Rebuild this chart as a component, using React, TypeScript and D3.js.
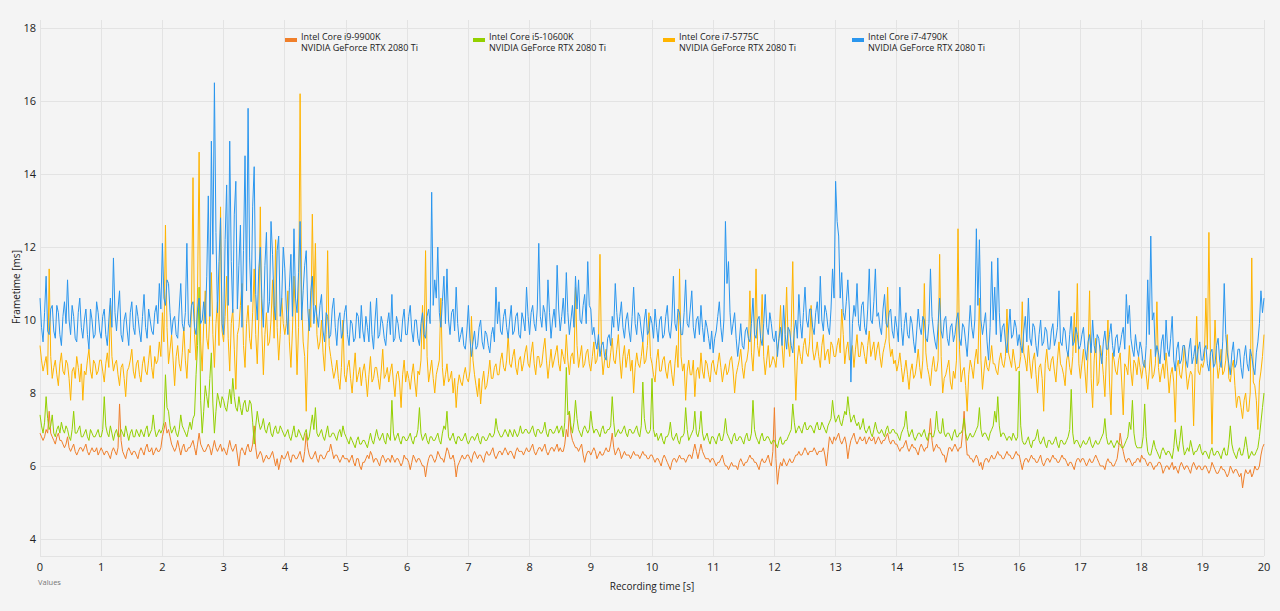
import React from "react";
import * as d3 from "d3";

// Frametime recordings over 20 s, 25 ms sampling (ms per frame)
const DURATION = 20;

const i9_9900K = [
  6.9, 6.8, 6.7, 6.8, 7.0, 6.9, 7.5, 6.9, 6.8, 6.7, 6.6, 6.8, 6.9, 6.7, 6.7, 6.6, 6.5, 6.6, 6.8, 6.5, 6.4, 6.5, 6.6, 6.4, 6.3, 6.4, 6.5, 6.5, 6.4, 6.5, 6.6, 6.4, 6.3, 6.4, 6.5, 6.4, 6.4, 6.5, 6.3, 6.4,
  6.5, 6.4, 6.3, 6.4, 6.4, 6.3, 6.2, 6.4, 6.5, 6.4, 6.3, 6.5, 7.7, 6.7, 6.4, 6.3, 6.2, 6.4, 6.5, 6.4, 6.3, 6.4, 6.4, 6.3, 6.2, 6.4, 6.5, 6.4, 6.3, 6.5, 6.6, 6.4, 6.4, 6.5, 6.3, 6.4, 6.5, 6.4, 6.4, 6.5,
  6.8, 7.0, 7.2, 6.9, 7.0, 6.8, 6.6, 6.5, 6.4, 6.5, 6.7, 6.5, 6.3, 6.5, 6.6, 6.4, 6.4, 6.5, 6.5, 6.6, 6.7, 6.5, 6.3, 6.6, 6.9, 6.6, 6.5, 6.4, 6.4, 6.5, 6.6, 6.5, 6.3, 6.5, 6.7, 6.5, 6.4, 6.5, 6.6, 6.4,
  6.5, 6.4, 6.3, 6.5, 6.7, 6.5, 6.4, 6.5, 6.6, 6.3, 6.0, 6.4, 6.5, 6.4, 6.3, 6.5, 6.6, 6.4, 6.4, 6.6, 7.1, 6.5, 6.2, 6.3, 6.4, 6.3, 6.1, 6.2, 6.3, 6.2, 6.2, 6.3, 6.4, 6.2, 6.0, 6.2, 5.9, 6.1, 6.3, 6.2,
  6.2, 6.3, 6.4, 6.2, 6.1, 6.3, 6.3, 6.2, 6.2, 6.3, 6.4, 6.2, 6.1, 6.4, 6.9, 6.5, 6.3, 6.2, 6.2, 6.3, 6.4, 6.2, 6.1, 6.3, 6.3, 6.2, 6.2, 6.3, 6.4, 6.4, 6.6, 6.4, 6.2, 6.3, 6.3, 6.2, 6.1, 6.2, 6.3, 6.2,
  6.2, 6.2, 6.1, 6.2, 6.3, 6.1, 6.0, 6.2, 6.2, 6.0, 5.9, 6.1, 6.1, 6.2, 6.3, 6.2, 6.4, 6.3, 6.1, 6.2, 6.2, 6.1, 6.0, 6.2, 6.3, 6.2, 6.1, 6.2, 6.2, 6.1, 6.3, 6.2, 6.1, 6.2, 6.2, 6.1, 6.0, 6.1, 6.3, 6.2,
  6.2, 6.1, 5.9, 6.1, 6.3, 6.2, 6.1, 6.2, 6.2, 6.1, 6.0, 6.0, 5.7, 6.0, 6.2, 6.3, 6.3, 6.2, 6.1, 6.2, 6.4, 6.3, 6.2, 6.2, 6.1, 6.3, 6.5, 6.4, 6.2, 6.2, 6.3, 6.1, 5.7, 6.0, 6.1, 6.2, 6.3, 6.2, 6.2, 6.3,
  6.3, 6.2, 6.1, 6.3, 6.4, 6.3, 6.2, 6.3, 6.3, 6.2, 6.1, 6.3, 6.4, 6.3, 6.3, 6.4, 6.5, 6.3, 6.2, 6.3, 6.4, 6.4, 6.3, 6.4, 6.5, 6.4, 6.3, 6.4, 6.4, 6.3, 6.2, 6.4, 6.5, 6.4, 6.4, 6.4, 6.3, 6.4, 6.5, 6.4,
  6.4, 6.5, 6.6, 6.4, 6.3, 6.4, 6.5, 6.5, 6.4, 6.5, 6.6, 6.4, 6.3, 6.4, 6.5, 6.5, 6.4, 6.5, 6.6, 6.4, 6.5, 6.4, 6.4, 6.6, 7.0, 6.8, 7.5, 6.9, 6.7, 6.6, 6.5, 6.5, 6.4, 6.5, 6.6, 6.3, 6.1, 6.3, 6.4, 6.4,
  6.3, 6.4, 6.5, 6.4, 6.2, 6.3, 6.4, 6.3, 6.3, 6.4, 6.5, 6.4, 6.4, 6.6, 6.9, 6.5, 6.3, 6.4, 6.5, 6.4, 6.2, 6.3, 6.4, 6.3, 6.3, 6.3, 6.2, 6.3, 6.4, 6.3, 6.3, 6.3, 6.2, 6.3, 6.4, 6.3, 6.3, 6.2, 6.2, 6.3,
  6.3, 6.2, 6.1, 6.2, 6.2, 6.1, 6.0, 6.2, 6.3, 6.2, 6.1, 6.0, 5.9, 6.1, 6.2, 6.2, 6.1, 6.2, 6.3, 6.2, 6.2, 6.2, 6.1, 6.2, 6.3, 6.3, 6.2, 6.4, 6.6, 6.4, 6.2, 6.4, 6.6, 6.4, 6.3, 6.2, 6.2, 6.2, 6.1, 6.2,
  6.2, 6.1, 6.0, 6.1, 6.1, 6.2, 6.3, 6.1, 6.0, 6.0, 5.9, 6.0, 6.1, 6.0, 6.0, 6.0, 5.9, 6.1, 6.2, 6.1, 6.0, 6.1, 6.1, 6.2, 6.3, 6.2, 6.2, 6.1, 6.1, 6.0, 5.9, 6.1, 6.2, 6.1, 6.1, 6.2, 6.3, 6.1, 6.0, 6.4,
  7.6, 6.2, 5.5, 5.9, 6.1, 6.0, 6.2, 6.1, 6.0, 6.1, 6.2, 6.1, 6.1, 6.2, 6.3, 6.3, 6.4, 6.3, 6.3, 6.4, 6.5, 6.4, 6.3, 6.4, 6.4, 6.4, 6.5, 6.4, 6.3, 6.4, 6.4, 6.4, 6.5, 6.3, 6.0, 6.4, 6.8, 6.7, 6.6, 6.8,
  6.7, 6.8, 6.9, 6.7, 6.6, 6.7, 6.8, 6.6, 6.2, 6.5, 6.7, 6.8, 6.9, 6.7, 6.6, 6.7, 6.8, 6.7, 6.7, 6.8, 6.6, 6.7, 6.8, 6.7, 6.7, 6.8, 6.6, 6.7, 6.8, 6.7, 6.6, 6.7, 6.7, 6.8, 6.9, 6.7, 6.6, 6.7, 6.7, 6.6,
  6.6, 6.5, 6.4, 6.5, 6.5, 6.6, 6.7, 6.5, 6.4, 6.5, 6.6, 6.5, 6.5, 6.4, 6.3, 6.5, 6.6, 6.5, 6.4, 6.5, 6.5, 6.8, 7.3, 6.7, 6.4, 6.5, 6.6, 6.5, 6.5, 6.4, 6.3, 6.3, 6.1, 6.3, 6.5, 6.5, 6.4, 6.5, 6.6, 6.5,
  6.4, 6.5, 6.5, 6.9, 7.5, 6.8, 6.3, 6.3, 6.2, 6.2, 6.1, 6.2, 6.3, 6.2, 6.0, 6.1, 5.9, 6.1, 6.2, 6.2, 6.1, 6.2, 6.3, 6.2, 6.2, 6.3, 6.4, 6.3, 6.3, 6.2, 6.2, 6.3, 6.4, 6.3, 6.3, 6.2, 6.2, 6.3, 6.4, 6.3,
  6.3, 6.1, 5.9, 6.1, 6.2, 6.2, 6.1, 6.2, 6.3, 6.2, 6.2, 6.1, 6.1, 6.2, 6.3, 6.1, 6.0, 6.1, 6.2, 6.2, 6.1, 6.2, 6.3, 6.2, 6.2, 6.1, 6.1, 6.2, 6.3, 6.2, 6.2, 6.1, 6.0, 6.1, 6.1, 6.0, 5.9, 6.1, 6.2, 6.2,
  6.1, 6.2, 6.2, 6.1, 6.0, 6.1, 6.2, 6.1, 6.1, 6.2, 6.3, 6.2, 6.1, 6.0, 6.0, 6.0, 5.9, 6.1, 6.2, 6.1, 6.1, 6.0, 6.0, 6.1, 6.2, 6.5, 6.9, 6.6, 6.4, 6.2, 6.1, 6.2, 6.2, 6.1, 6.0, 6.1, 6.1, 6.2, 6.2, 6.1,
  6.3, 6.2, 6.2, 6.1, 6.0, 6.1, 6.1, 6.0, 5.9, 6.0, 6.0, 6.1, 6.1, 6.0, 5.8, 5.9, 6.0, 6.0, 5.9, 6.0, 6.1, 5.9, 6.0, 5.9, 5.8, 6.0, 6.1, 6.0, 5.9, 6.0, 6.0, 5.9, 5.8, 6.0, 6.1, 6.0, 5.9, 6.0, 6.0, 5.9,
  5.9, 6.0, 6.0, 5.9, 5.8, 5.9, 6.1, 6.0, 5.9, 5.8, 5.8, 5.9, 6.0, 5.9, 5.9, 5.8, 5.7, 5.8, 6.0, 5.9, 5.8, 5.9, 5.9, 5.8, 5.7, 5.8, 5.4, 5.7, 5.9, 5.8, 5.8, 5.9, 5.7, 5.8, 6.0, 5.9, 5.9, 6.0, 6.3, 6.5,
  6.6,
];

const i5_10600K = [
  7.4, 7.1, 6.9, 7.2, 7.9, 7.3, 7.0, 7.1, 7.4, 6.9, 6.8, 7.0, 7.1, 6.9, 7.2, 7.0, 6.9, 7.1, 7.0, 6.8, 6.7, 7.0, 7.5, 6.9, 6.9, 7.0, 7.1, 6.8, 6.8, 6.9, 7.0, 6.8, 6.7, 7.0, 6.9, 6.8, 6.8, 6.9, 7.0, 6.8,
  6.8, 7.0, 7.9, 7.1, 6.9, 6.8, 7.1, 6.9, 6.7, 6.9, 7.0, 6.8, 6.8, 7.0, 6.9, 6.8, 7.1, 6.9, 6.7, 6.9, 7.0, 6.8, 6.8, 7.0, 6.9, 6.8, 7.0, 6.9, 6.8, 7.0, 7.1, 6.8, 6.9, 7.0, 7.4, 7.0, 6.8, 6.9, 7.0, 6.9,
  7.0, 7.2, 8.5, 7.6, 7.5, 7.1, 6.9, 7.0, 7.1, 6.9, 6.8, 7.0, 7.4, 7.1, 7.0, 6.9, 6.8, 7.0, 7.2, 7.0, 7.3, 7.4, 8.5, 9.3, 10.9, 7.8, 6.9, 7.5, 8.2, 7.9, 7.6, 8.4, 9.1, 7.7, 6.9, 7.5, 8.0, 7.8, 7.6, 7.9,
  7.8, 7.6, 7.5, 7.8, 8.1, 7.7, 8.4, 7.9, 7.6, 7.5, 7.9, 7.6, 7.4, 7.7, 7.8, 7.5, 7.5, 7.8, 7.7, 7.2, 6.6, 7.1, 7.5, 7.2, 7.0, 7.1, 7.3, 7.0, 6.9, 7.1, 7.2, 6.9, 6.8, 7.0, 7.1, 6.9, 6.9, 7.1, 7.0, 6.9,
  6.8, 6.9, 7.0, 6.8, 6.7, 6.9, 7.1, 6.8, 6.8, 7.0, 6.9, 6.8, 6.7, 6.9, 7.0, 6.7, 6.8, 7.1, 7.4, 7.0, 7.6, 6.9, 6.8, 6.9, 7.0, 6.8, 6.7, 6.9, 7.1, 6.8, 6.8, 6.9, 6.9, 6.8, 6.7, 6.9, 7.0, 6.8, 7.1, 6.9,
  6.8, 6.7, 6.6, 6.8, 6.7, 6.6, 6.5, 6.7, 6.8, 6.6, 6.6, 6.7, 6.7, 6.6, 6.5, 6.7, 6.9, 6.7, 6.6, 6.8, 7.0, 6.8, 6.7, 6.8, 6.9, 6.7, 6.6, 6.9, 6.8, 6.7, 7.8, 6.9, 6.7, 6.8, 6.9, 6.7, 6.6, 6.8, 6.8, 6.7,
  6.7, 6.8, 6.9, 6.7, 6.6, 6.8, 6.8, 7.0, 7.6, 6.9, 6.7, 6.8, 6.9, 6.7, 6.6, 6.8, 6.8, 6.7, 6.7, 6.8, 6.9, 6.7, 6.6, 6.9, 7.1, 7.0, 7.5, 6.8, 6.7, 6.8, 6.9, 6.7, 6.6, 6.8, 6.8, 6.7, 6.7, 6.8, 6.9, 6.7,
  6.6, 6.7, 6.8, 6.8, 6.7, 6.8, 6.9, 6.7, 6.6, 6.8, 6.8, 6.7, 6.7, 6.8, 6.9, 6.8, 6.8, 6.9, 7.3, 7.0, 6.9, 6.8, 6.8, 6.9, 7.0, 6.9, 6.8, 7.0, 6.9, 6.8, 7.0, 6.9, 6.8, 6.9, 7.1, 6.9, 6.9, 7.0, 7.0, 6.9,
  6.9, 7.0, 7.1, 6.9, 6.8, 7.0, 7.0, 6.9, 6.9, 7.0, 7.2, 6.9, 6.8, 7.0, 7.0, 6.9, 6.9, 7.0, 7.1, 6.9, 7.0, 7.1, 6.8, 7.2, 8.7, 7.4, 7.5, 7.1, 6.9, 7.2, 7.8, 7.3, 7.0, 6.9, 6.8, 7.0, 7.1, 7.0, 6.9, 7.0,
  7.5, 7.1, 6.9, 7.0, 7.0, 6.9, 6.8, 7.0, 7.1, 6.9, 6.9, 7.0, 7.0, 7.1, 7.9, 7.2, 6.8, 6.9, 7.0, 6.9, 6.9, 7.0, 7.1, 6.9, 6.8, 7.0, 7.0, 6.9, 6.9, 7.0, 7.1, 6.9, 6.8, 7.1, 8.3, 7.3, 7.0, 6.9, 6.9, 7.0,
  8.4, 7.0, 6.8, 6.9, 6.7, 6.8, 6.9, 6.7, 6.6, 6.8, 6.8, 6.9, 7.2, 6.8, 6.7, 6.8, 6.9, 6.7, 6.6, 6.8, 6.8, 6.9, 7.6, 7.0, 6.7, 6.8, 6.9, 7.0, 7.5, 6.9, 6.8, 7.0, 7.5, 6.9, 6.7, 6.8, 6.9, 6.7, 6.6, 6.8,
  6.8, 6.7, 6.6, 6.8, 6.9, 6.7, 6.7, 6.9, 7.3, 6.9, 6.8, 6.7, 6.6, 6.8, 6.9, 6.7, 6.7, 6.8, 6.8, 6.7, 6.6, 6.8, 6.9, 6.7, 6.7, 6.9, 7.8, 7.0, 6.8, 6.7, 6.6, 6.8, 6.9, 6.7, 6.7, 6.8, 6.8, 6.7, 6.6, 6.7,
  6.7, 6.6, 6.5, 6.7, 6.8, 6.6, 6.6, 6.7, 6.7, 6.8, 6.9, 7.0, 7.7, 7.2, 6.9, 7.0, 7.1, 7.0, 6.9, 7.1, 7.2, 7.0, 7.0, 7.1, 7.1, 7.0, 6.9, 7.1, 7.2, 7.0, 7.0, 7.2, 7.1, 7.0, 6.9, 7.1, 7.2, 7.3, 7.8, 7.4,
  7.2, 7.3, 7.4, 7.2, 7.1, 7.3, 7.5, 7.4, 7.9, 7.5, 7.2, 7.3, 7.4, 7.2, 7.1, 7.2, 7.0, 7.1, 7.3, 7.0, 6.9, 7.0, 7.1, 6.9, 6.8, 7.0, 7.2, 7.0, 6.9, 6.9, 7.0, 6.9, 6.8, 7.0, 7.1, 6.9, 6.9, 7.0, 7.0, 6.9,
  6.9, 6.8, 6.7, 6.9, 7.0, 7.1, 7.5, 7.0, 6.8, 6.9, 7.0, 6.8, 6.7, 6.8, 6.9, 6.9, 6.8, 6.9, 7.0, 6.8, 6.7, 6.9, 6.9, 6.8, 6.8, 7.0, 7.5, 7.0, 6.9, 6.9, 7.3, 6.9, 6.8, 6.9, 6.9, 6.8, 6.7, 6.9, 7.0, 6.8,
  6.8, 6.9, 6.9, 7.0, 7.3, 6.9, 6.7, 6.8, 6.9, 6.8, 6.8, 6.9, 7.0, 7.1, 7.6, 7.0, 6.8, 6.9, 6.9, 6.8, 6.7, 6.9, 7.0, 7.1, 7.5, 7.2, 7.9, 7.1, 6.8, 6.9, 6.9, 6.8, 6.7, 6.8, 6.8, 6.7, 6.9, 6.8, 6.7, 6.8,
  8.6, 7.1, 6.7, 6.6, 6.6, 6.7, 6.8, 6.6, 6.5, 6.7, 6.7, 6.8, 7.0, 6.7, 6.6, 6.7, 6.8, 6.6, 6.5, 6.7, 6.7, 6.6, 6.6, 6.7, 6.8, 6.6, 6.5, 6.7, 6.7, 6.6, 6.6, 6.7, 6.8, 7.0, 8.1, 6.9, 6.6, 6.7, 6.7, 6.6,
  6.5, 6.6, 6.7, 6.6, 6.6, 6.7, 6.8, 6.6, 6.5, 6.6, 6.7, 6.6, 6.6, 6.7, 6.8, 6.9, 7.3, 6.8, 6.6, 6.6, 6.7, 6.6, 6.5, 6.6, 6.7, 6.6, 6.6, 6.5, 6.5, 6.6, 6.7, 6.8, 7.2, 7.0, 7.8, 6.9, 6.6, 6.5, 6.5, 6.5,
  6.5, 6.8, 7.7, 6.8, 6.4, 6.3, 6.3, 6.5, 6.7, 6.5, 6.4, 6.3, 6.2, 6.4, 6.5, 6.4, 6.3, 6.4, 6.4, 6.3, 6.2, 6.5, 7.0, 6.6, 6.4, 6.7, 7.1, 6.6, 6.3, 6.4, 6.5, 6.4, 6.7, 6.5, 6.3, 6.4, 6.4, 6.5, 6.6, 6.4,
  6.3, 6.4, 6.4, 6.3, 6.2, 6.4, 6.5, 6.3, 6.3, 6.4, 6.4, 6.3, 6.2, 6.4, 6.5, 6.3, 6.3, 6.6, 7.1, 6.6, 6.4, 6.3, 6.2, 6.4, 6.5, 6.3, 6.3, 6.5, 6.8, 6.5, 6.2, 6.3, 6.4, 6.3, 6.3, 6.4, 6.5, 6.8, 7.2, 7.6,
  8.0,
];

const i7_5775C = [
  9.3, 8.9, 8.6, 8.8, 9.0, 8.5, 11.4, 9.0, 8.4, 8.7, 8.9, 8.5, 8.2, 8.8, 9.1, 8.6, 8.5, 8.9, 8.8, 8.4, 7.8, 8.6, 8.7, 8.4, 9.0, 8.7, 8.3, 8.8, 7.8, 8.6, 8.5, 8.9, 9.2, 8.6, 8.4, 8.9, 8.8, 8.5, 8.6, 8.9,
  8.9, 8.6, 8.3, 8.8, 9.1, 8.7, 10.4, 9.0, 8.6, 8.8, 8.9, 8.5, 8.2, 8.7, 8.8, 8.4, 7.9, 8.6, 8.7, 8.9, 9.2, 8.6, 8.4, 8.8, 8.9, 8.5, 8.3, 8.8, 9.0, 8.6, 8.5, 8.9, 9.3, 8.7, 8.4, 9.0, 8.8, 8.9, 9.4, 9.0,
  10.2, 9.4, 12.6, 9.8, 8.8, 9.2, 9.6, 8.9, 8.2, 9.0, 9.3, 8.8, 8.6, 9.1, 9.8, 8.9, 8.4, 9.2, 9.1, 10.3, 13.9, 9.6, 8.9, 10.9, 14.6, 9.4, 8.6, 9.9, 10.8, 9.5, 9.2, 10.2, 11.3, 9.6, 8.7, 9.9, 10.5, 9.3, 13.1, 9.7,
  9.4, 10.1, 11.2, 9.5, 8.6, 9.9, 10.3, 9.2, 8.1, 9.6, 9.8, 10.4, 11.0, 9.3, 8.7, 9.9, 10.4, 9.5, 9.2, 10.2, 11.4, 9.6, 8.8, 10.0, 13.1, 9.7, 8.5, 9.6, 10.2, 9.3, 9.4, 10.0, 11.1, 9.5, 12.2, 9.8, 8.9, 9.6, 10.6, 9.9,
  9.6, 9.9, 10.8, 9.4, 8.7, 9.7, 11.2, 10.0, 8.5, 9.8, 16.2, 10.5, 9.4, 9.0, 7.5, 9.2, 10.3, 9.8, 12.9, 10.4, 12.1, 9.6, 9.2, 9.4, 10.0, 9.1, 8.6, 9.6, 11.9, 9.3, 9.0, 8.7, 8.4, 8.6, 8.9, 8.4, 8.1, 8.7, 10.0, 8.5,
  8.3, 8.7, 8.9, 8.4, 8.0, 8.6, 9.1, 8.3, 8.5, 8.7, 8.2, 8.6, 8.8, 8.4, 7.9, 8.5, 9.0, 8.3, 8.4, 8.7, 8.7, 8.4, 8.1, 8.6, 9.2, 8.4, 8.5, 8.7, 8.3, 8.6, 8.8, 8.3, 7.9, 8.5, 8.6, 8.3, 7.6, 8.5, 8.9, 8.3,
  8.6, 8.4, 8.1, 8.5, 8.8, 8.3, 7.9, 8.6, 8.5, 8.9, 10.4, 9.2, 11.9, 9.0, 8.3, 8.6, 8.9, 8.4, 8.0, 8.5, 8.7, 8.9, 10.6, 8.7, 8.2, 8.5, 8.8, 8.3, 8.4, 8.6, 8.0, 8.4, 7.6, 8.2, 8.5, 8.3, 8.2, 8.5, 8.7, 8.4,
  8.3, 8.6, 10.1, 8.9, 8.5, 8.2, 7.9, 8.4, 7.7, 8.3, 8.6, 8.1, 8.2, 8.5, 8.9, 8.4, 8.4, 8.7, 8.8, 8.5, 8.5, 8.9, 9.1, 8.7, 8.6, 8.9, 9.6, 8.8, 8.7, 9.0, 9.2, 8.7, 8.5, 8.9, 9.0, 8.6, 8.8, 9.1, 9.3, 8.8,
  8.7, 9.1, 9.4, 8.8, 8.5, 9.0, 9.0, 8.7, 8.8, 9.2, 9.5, 8.9, 8.4, 8.8, 9.2, 8.7, 8.9, 9.1, 9.3, 8.8, 8.6, 9.2, 9.0, 8.8, 9.6, 8.9, 8.5, 9.0, 9.1, 8.8, 10.9, 9.3, 8.7, 9.0, 9.3, 8.7, 8.8, 9.1, 9.2, 8.8,
  8.6, 9.0, 9.4, 8.8, 8.9, 9.3, 11.8, 9.1, 8.5, 8.9, 9.2, 8.7, 8.7, 9.1, 9.5, 8.9, 8.8, 9.2, 9.6, 8.9, 8.4, 9.0, 9.3, 8.7, 9.0, 9.2, 8.6, 8.9, 8.0, 8.7, 9.1, 8.8, 8.7, 9.0, 9.4, 8.8, 8.9, 9.3, 10.2, 9.0,
  8.8, 8.5, 8.3, 8.9, 9.2, 8.6, 8.6, 8.9, 9.0, 8.6, 8.4, 8.8, 8.9, 8.5, 8.2, 8.8, 9.3, 8.7, 11.4, 9.0, 8.6, 8.8, 7.8, 8.6, 8.9, 8.5, 8.5, 8.9, 7.9, 8.6, 8.7, 8.4, 9.1, 8.6, 8.4, 8.9, 8.8, 8.5, 8.3, 8.8,
  8.9, 8.6, 8.5, 8.8, 9.1, 8.7, 8.3, 8.6, 8.8, 8.5, 8.6, 8.9, 9.0, 8.6, 8.0, 8.5, 8.7, 8.9, 9.2, 8.7, 8.4, 8.8, 8.9, 9.2, 10.8, 9.1, 8.6, 9.4, 11.4, 9.3, 9.0, 9.5, 10.7, 9.0, 8.5, 8.9, 9.3, 8.7, 8.8, 9.0,
  8.9, 8.7, 9.2, 9.5, 10.4, 9.3, 8.7, 9.6, 10.9, 9.4, 9.0, 9.8, 11.6, 9.2, 7.8, 8.9, 9.3, 9.0, 8.8, 9.3, 9.5, 9.1, 9.0, 9.4, 10.4, 9.2, 8.9, 9.1, 9.4, 9.0, 8.7, 9.3, 9.6, 8.9, 9.1, 9.2, 8.8, 9.4, 9.3, 9.0,
  9.0, 9.3, 9.5, 9.1, 10.3, 9.6, 8.8, 9.2, 9.4, 8.9, 9.1, 9.3, 8.7, 9.2, 9.6, 9.0, 9.0, 9.4, 9.3, 9.0, 8.8, 9.3, 9.7, 9.0, 9.2, 9.4, 8.9, 9.2, 9.4, 9.0, 8.7, 9.1, 9.3, 9.5, 10.9, 9.4, 9.0, 9.2, 8.8, 8.9,
  8.6, 8.8, 9.1, 8.7, 8.3, 8.6, 8.9, 8.5, 8.1, 8.6, 8.8, 8.4, 8.5, 8.8, 9.2, 8.7, 8.4, 8.9, 11.0, 9.1, 8.7, 8.5, 8.2, 8.7, 9.0, 8.6, 8.6, 8.9, 11.8, 9.0, 8.0, 8.4, 8.5, 8.7, 8.9, 8.3, 8.1, 8.6, 8.4, 8.9,
  12.5, 9.2, 8.3, 8.6, 8.7, 8.2, 7.5, 8.5, 8.9, 8.7, 8.4, 8.9, 9.2, 8.8, 10.6, 8.9, 8.1, 8.6, 9.0, 8.7, 8.6, 8.9, 9.3, 8.8, 8.8, 8.6, 8.5, 8.9, 9.1, 8.8, 8.7, 9.0, 10.3, 9.1, 8.9, 8.7, 9.2, 8.9, 8.6, 8.7,
  8.7, 9.0, 10.5, 9.1, 8.9, 8.6, 9.3, 8.8, 8.4, 8.9, 9.1, 8.5, 8.0, 8.7, 8.8, 8.4, 7.5, 8.8, 9.2, 8.7, 8.6, 8.9, 9.0, 8.6, 8.3, 8.9, 9.4, 8.8, 8.7, 8.5, 8.2, 8.9, 9.1, 8.7, 8.5, 9.0, 10.2, 9.1, 11.0, 8.8,
  8.4, 8.8, 9.2, 8.6, 8.0, 9.1, 10.8, 8.4, 7.6, 8.9, 9.5, 8.2, 8.3, 9.3, 9.0, 8.5, 7.9, 9.0, 10.0, 8.3, 7.4, 9.1, 8.9, 8.6, 8.5, 8.9, 9.1, 8.3, 7.4, 8.8, 8.7, 8.5, 9.3, 8.6, 8.2, 8.9, 8.8, 8.5, 9.0, 8.7,
  8.4, 8.7, 8.9, 8.5, 8.1, 8.6, 9.2, 8.4, 8.5, 8.8, 10.5, 8.7, 8.3, 8.6, 8.8, 8.4, 9.1, 8.6, 8.0, 8.5, 8.7, 8.3, 7.2, 8.7, 8.9, 8.5, 8.4, 8.8, 9.3, 8.6, 8.1, 8.4, 8.6, 8.5, 7.1, 8.7, 10.1, 8.6, 8.5, 8.8,
  8.7, 8.9, 10.6, 9.2, 12.4, 9.0, 6.6, 8.7, 10.0, 8.9, 8.4, 8.7, 9.2, 8.5, 8.6, 8.9, 9.6, 8.4, 8.3, 8.7, 8.9, 8.2, 7.6, 7.9, 7.9, 7.6, 7.3, 7.8, 8.0, 7.5, 7.5, 8.0, 11.7, 8.3, 8.2, 7.8, 7.0, 8.3, 8.6, 9.0,
  9.6,
];

const i7_4790K = [
  10.6, 9.8, 9.4, 10.2, 11.2, 9.7, 9.6, 10.3, 10.4, 9.7, 9.5, 10.4, 10.2, 9.6, 9.3, 10.1, 10.5, 9.9, 11.1, 10.0, 9.6, 10.4, 10.1, 9.5, 9.4, 10.2, 10.6, 9.8, 9.5, 10.0, 10.3, 9.6, 9.2, 10.3, 10.0, 9.5, 9.6, 10.5, 10.2, 9.7,
  9.5, 10.1, 10.3, 9.6, 9.3, 10.0, 10.6, 9.8, 11.7, 10.2, 9.7, 10.3, 10.8, 9.6, 9.4, 10.0, 10.2, 9.7, 9.3, 10.2, 10.5, 9.8, 9.6, 10.4, 10.1, 9.7, 9.4, 10.1, 10.7, 9.8, 9.5, 10.3, 10.0, 9.7, 9.6, 10.2, 10.4, 9.9, 11.0, 10.3,
  12.1, 10.6, 10.4, 11.1, 11.0, 10.2, 9.6, 10.0, 10.1, 9.6, 9.5, 10.3, 11.0, 9.9, 9.7, 10.2, 12.1, 9.9, 9.8, 10.4, 10.5, 9.8, 9.6, 10.3, 10.6, 9.9, 10.0, 10.5, 9.9, 11.2, 13.4, 10.1, 14.9, 11.8, 16.5, 12.4, 10.2, 11.6, 12.8, 9.9,
  9.6, 12.2, 13.7, 10.4, 14.9, 11.6, 10.2, 12.9, 13.8, 10.3, 11.5, 12.6, 9.8, 11.9, 14.5, 10.8, 15.8, 11.7, 10.5, 13.1, 14.2, 10.7, 10.0, 11.4, 12.0, 10.6, 9.8, 11.5, 12.4, 10.2, 10.5, 12.7, 11.8, 10.4, 10.0, 11.9, 12.3, 10.1, 10.6, 12.0,
  11.4, 10.3, 9.6, 10.9, 11.8, 10.1, 12.5, 10.6, 10.2, 11.3, 12.7, 10.0, 10.8, 11.5, 11.9, 10.3, 9.7, 10.8, 11.2, 9.9, 10.4, 10.1, 9.8, 10.4, 10.7, 9.7, 9.4, 10.2, 10.1, 9.5, 9.6, 10.3, 10.6, 9.8, 9.3, 10.0, 10.2, 9.5, 9.7, 10.2,
  10.4, 9.6, 9.3, 10.0, 9.9, 9.4, 9.5, 10.2, 10.1, 9.5, 10.4, 9.7, 9.4, 10.1, 9.8, 9.4, 10.5, 9.6, 9.2, 10.0, 10.6, 9.5, 9.6, 10.1, 9.9, 9.5, 9.3, 9.9, 10.2, 9.6, 10.7, 9.4, 9.5, 10.1, 9.9, 9.5, 9.4, 10.0, 10.3, 9.6,
  9.6, 10.1, 10.4, 9.7, 9.4, 10.0, 10.0, 9.5, 9.3, 9.9, 10.2, 9.6, 9.5, 10.1, 10.3, 9.9, 13.5, 10.4, 11.1, 10.6, 12.0, 10.2, 9.8, 10.5, 11.2, 9.9, 11.4, 10.0, 9.6, 10.2, 10.3, 9.7, 10.9, 9.9, 9.4, 9.6, 9.8, 9.3, 9.2, 9.7,
  10.4, 9.5, 9.0, 9.4, 9.7, 9.2, 9.3, 9.8, 10.0, 9.4, 9.2, 9.7, 9.6, 9.3, 9.1, 9.6, 9.8, 9.4, 10.9, 9.9, 10.5, 9.7, 9.6, 10.1, 10.3, 9.8, 9.5, 10.0, 10.4, 9.6, 9.7, 10.1, 10.2, 9.6, 9.5, 10.2, 10.0, 9.7, 10.9, 10.1,
  9.6, 10.2, 10.4, 9.9, 9.7, 10.3, 12.1, 10.1, 9.8, 10.4, 10.2, 9.7, 11.1, 10.2, 9.5, 10.0, 10.3, 9.8, 11.5, 10.3, 9.7, 10.1, 10.6, 9.9, 11.3, 10.2, 9.6, 10.0, 10.4, 9.8, 11.2, 10.3, 11.1, 10.0, 9.9, 10.4, 10.7, 9.9, 11.6, 10.4,
  10.3, 9.6, 9.8, 9.4, 9.2, 9.6, 9.0, 9.3, 9.4, 9.0, 8.9, 9.5, 9.6, 9.3, 10.1, 9.8, 11.0, 10.2, 9.7, 10.1, 10.5, 9.8, 9.5, 10.0, 10.2, 9.7, 9.4, 10.1, 10.9, 9.9, 9.6, 10.2, 10.1, 9.7, 9.4, 10.0, 10.3, 9.6, 9.7, 10.1,
  9.9, 9.5, 10.3, 9.8, 9.4, 10.0, 10.1, 9.5, 9.6, 10.1, 10.4, 9.7, 9.5, 10.0, 11.2, 9.9, 9.7, 10.3, 10.2, 9.6, 9.6, 10.2, 11.1, 9.9, 9.8, 10.3, 10.8, 9.8, 9.5, 10.0, 10.1, 9.6, 10.4, 9.8, 9.4, 10.0, 9.8, 9.5, 9.2, 9.7,
  9.1, 9.5, 9.7, 10.1, 10.5, 9.8, 9.4, 10.0, 12.7, 11.0, 11.6, 10.2, 9.6, 9.9, 10.2, 9.5, 9.0, 9.4, 9.9, 9.3, 9.2, 9.7, 9.8, 9.5, 9.4, 9.9, 10.6, 9.6, 9.5, 10.0, 10.1, 9.5, 9.3, 9.9, 10.7, 9.8, 9.6, 10.2, 9.9, 9.5,
  9.4, 9.7, 9.0, 9.5, 9.8, 9.3, 10.4, 9.6, 9.2, 9.8, 9.7, 9.3, 9.1, 9.7, 10.0, 9.5, 10.7, 9.9, 9.5, 10.2, 10.9, 10.0, 9.8, 10.3, 10.3, 9.8, 9.6, 10.2, 10.5, 9.9, 11.2, 10.0, 9.7, 10.4, 10.2, 9.8, 9.6, 10.3, 11.4, 10.6,
  13.8, 12.7, 12.3, 10.6, 11.3, 10.2, 10.0, 10.5, 11.1, 10.3, 8.3, 9.9, 10.4, 10.1, 11.0, 9.9, 9.7, 10.4, 10.5, 9.8, 9.6, 10.3, 11.4, 10.0, 9.9, 10.5, 11.4, 10.1, 10.2, 9.8, 9.6, 10.3, 10.7, 9.9, 9.8, 10.2, 10.3, 9.7, 9.5, 10.1,
  9.8, 9.4, 10.9, 9.8, 9.3, 9.9, 10.2, 9.6, 9.5, 10.1, 9.9, 9.4, 9.1, 9.7, 10.3, 9.8, 9.6, 10.1, 10.0, 9.5, 9.4, 9.9, 11.4, 10.1, 9.7, 9.4, 9.2, 9.9, 10.6, 9.7, 9.5, 10.0, 10.1, 9.5, 9.3, 9.8, 9.9, 9.4, 9.6, 10.0,
  10.2, 9.5, 9.3, 9.9, 9.8, 9.4, 9.0, 9.7, 10.4, 9.8, 9.5, 10.0, 12.5, 10.4, 12.2, 10.0, 9.6, 9.9, 10.2, 9.4, 8.9, 9.8, 11.6, 10.0, 10.9, 9.6, 11.7, 10.2, 9.4, 9.8, 9.9, 9.4, 9.1, 9.7, 10.3, 9.5, 9.6, 10.0, 9.8, 9.3,
  9.6, 9.3, 9.1, 9.7, 10.1, 9.4, 10.6, 9.5, 9.3, 9.9, 9.8, 9.3, 9.0, 9.6, 10.0, 9.3, 9.4, 9.8, 9.7, 9.2, 9.2, 9.7, 9.9, 9.3, 9.5, 9.8, 10.8, 9.4, 9.3, 9.8, 9.7, 9.2, 9.0, 9.6, 10.1, 9.3, 9.4, 9.8, 9.6, 9.2,
  9.3, 9.6, 9.8, 9.2, 8.9, 9.4, 9.6, 9.1, 10.0, 9.3, 9.1, 9.6, 9.5, 9.1, 8.8, 9.4, 9.7, 9.2, 9.2, 9.6, 9.9, 9.3, 9.0, 9.5, 9.6, 9.1, 9.3, 9.6, 9.8, 9.2, 10.7, 9.9, 10.4, 9.5, 9.2, 9.0, 9.6, 9.2, 9.0, 9.4,
  9.2, 8.8, 8.7, 9.3, 11.1, 9.6, 12.3, 10.0, 10.2, 9.0, 9.3, 9.1, 8.8, 9.4, 9.6, 8.9, 10.0, 9.2, 9.0, 9.5, 10.1, 8.9, 8.6, 9.2, 9.4, 8.8, 8.9, 9.3, 9.3, 8.9, 8.7, 9.2, 9.5, 8.8, 9.0, 9.3, 8.8, 9.2, 9.4, 8.9,
  8.9, 9.2, 9.3, 8.8, 8.6, 9.1, 9.2, 8.7, 8.8, 9.3, 9.5, 8.9, 8.7, 9.4, 11.0, 9.6, 9.1, 8.8, 8.5, 9.1, 9.4, 8.7, 8.8, 9.2, 9.2, 8.7, 8.4, 9.0, 9.3, 8.8, 8.6, 9.2, 9.0, 8.7, 8.5, 9.1, 9.4, 9.9, 10.8, 10.2,
  10.6,
];

const seriesNames = ["Intel Core i9-9900K", "Intel Core i5-10600K", "Intel Core i7-5775C", "Intel Core i7-4790K"];
const gpuName = "NVIDIA GeForce RTX 2080 Ti";
const seriesColors = ["#f07f2a", "#93d000", "#ffb400", "#2a96ee"];
const seriesValues = [i9_9900K, i5_10600K, i7_5775C, i7_4790K];

const xTicks = d3.range(0, 21);
const yTicks = [4, 6, 8, 10, 12, 14, 16, 18];

const W = 1280;
const H = 611;
const FONT = "'Segoe UI', 'Open Sans', 'Noto Sans', sans-serif";

export default function App() {
  const x = d3.scaleLinear().domain([0, DURATION]).range([40, 1264]);
  const y = d3.scaleLinear().domain([4, 18]).range([539, 28]);
  const plotTop = 20;
  const plotBottom = 556;

  const legendX = [285, 473, 663, 852];

  return (
    <svg
      width={W}
      height={H}
      style={{ position: "absolute", left: 0, top: 0, background: "#f4f4f4" }}
      fontFamily={FONT}
    >
      <rect x={0} y={0} width={W} height={H} fill="#f4f4f4" />

      {/* grid */}
      <g stroke="#e3e3e3" strokeWidth={1} shapeRendering="crispEdges">
        {yTicks.map((t) => (
          <line key={"gy" + t} x1={x(0)} x2={x(20)} y1={y(t)} y2={y(t)} />
        ))}
        {xTicks.map((t) => (
          <line key={"gx" + t} x1={x(t)} x2={x(t)} y1={plotTop} y2={plotBottom} />
        ))}
        <line x1={x(0)} x2={x(20)} y1={plotBottom} y2={plotBottom} />
      </g>

      {/* series */}
      {seriesValues.map((vals, k) => {
        const step = DURATION / (vals.length - 1);
        const line = d3
          .line<number>()
          .x((_, i) => x(i * step))
          .y((v) => y(v));
        return (
          <path
            key={seriesNames[k]}
            d={line(vals) || ""}
            fill="none"
            stroke={seriesColors[k]}
            strokeWidth={1}
            strokeLinejoin="round"
          />
        );
      })}

      {/* y axis labels */}
      <g fontSize={11} fill="#222" textAnchor="end">
        {yTicks.map((t) => (
          <text key={"yl" + t} x={36} y={y(t) + 4}>
            {t}
          </text>
        ))}
      </g>

      {/* x axis labels */}
      <g fontSize={11} fill="#222" textAnchor="middle">
        {xTicks.map((t) => (
          <text key={"xl" + t} x={x(t)} y={571}>
            {t}
          </text>
        ))}
      </g>

      <text x={38} y={585} fontSize={7.5} fill="#777">
        Values
      </text>
      <text x={652} y={590} fontSize={10} fill="#222" textAnchor="middle">
        Recording time [s]
      </text>
      <text
        transform="translate(20,287) rotate(-90)"
        fontSize={10}
        fill="#222"
        textAnchor="middle"
      >
        Frametime [ms]
      </text>

      {/* legend */}
      {seriesNames.map((name, k) => (
        <g key={"lg" + k} transform={`translate(${legendX[k]},0)`}>
          <rect x={0} y={38} width={12} height={4} fill={seriesColors[k]} />
          <text x={16} y={40} fontSize={9} fill="#222">
            {name}
          </text>
          <text x={16} y={51} fontSize={9} fill="#222">
            {gpuName}
          </text>
        </g>
      ))}
    </svg>
  );
}
